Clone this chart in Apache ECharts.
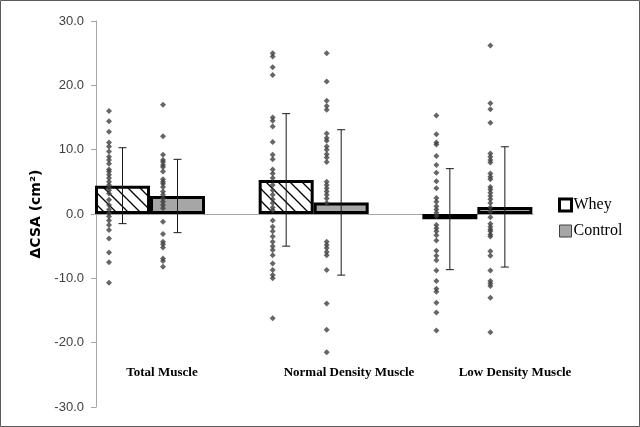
<!DOCTYPE html>
<html><head><meta charset="utf-8">
<script src="https://cdn.jsdelivr.net/npm/echarts@6/dist/echarts.min.js"></script>
<style>html,body{margin:0;padding:0;background:#fff}#c{width:640px;height:427px}</style>
</head><body><div id="c"></div><script>
// ---- data ----
const categories = ['Total Muscle', 'Normal Density Muscle', 'Low Density Muscle'];
const wheyMean = [4.4, 5.3, -0.8];
const wheySD = [5.9, 10.3, 7.85];
const controlMean = [2.8, 1.8, 1.1];
const controlSD = [5.7, 11.3, 9.35];

const wheyTotal = [16.0, 14.4, 12.8, 11.1, 10.5, 9.7, 8.9, 8.4, 7.8, 6.9, 6.6, 6.1, 5.6, 5.0, 4.5, 4.1, 3.7, 3.2, 2.2, 1.4, 0.7, 0.1, -0.4, -1.0, -1.7, -2.5, -3.8, -6.0, -7.5, -10.7];
const controlTotal = [17.0, 12.1, 9.2, 8.4, 8.1, 7.6, 7.3, 6.6, 5.4, 5.0, 4.7, 4.2, 3.5, 3.0, 2.4, 1.9, 1.4, 0.9, -1.2, -3.1, -4.3, -4.7, -5.2, -6.9, -7.3, -8.2];
const wheyNormal = [25.0, 24.5, 22.8, 21.6, 15.0, 14.5, 13.6, 11.2, 9.2, 8.5, 6.9, 6.3, 5.6, 4.5, 3.7, 3.0, 2.3, 1.7, 1.0, 0.6, -1.0, -2.0, -2.7, -3.5, -4.3, -5.0, -5.6, -6.4, -7.7, -8.7, -9.5, -10.0, -16.2];
const controlNormal = [25.0, 20.6, 17.6, 16.8, 16.2, 12.5, 11.8, 11.4, 10.5, 10.0, 9.3, 8.8, 8.1, 5.0, 4.5, 4.0, 3.5, 3.0, 2.4, 1.7, -4.3, -4.8, -5.3, -5.9, -6.4, -8.7, -13.9, -18.0, -21.5];
const wheyLow = [15.3, 12.4, 11.1, 10.8, 9.0, 7.6, 6.4, 5.1, 4.0, 2.5, 1.9, 1.2, 0.7, 0.2, -0.3, -1.7, -2.2, -2.7, -3.3, -4.1, -5.7, -6.5, -7.2, -8.8, -10.4, -11.6, -12.1, -13.8, -15.3, -18.1];
const controlLow = [26.2, 17.2, 16.3, 14.2, 9.4, 8.9, 8.4, 8.0, 6.3, 5.8, 5.4, 4.2, 3.8, 3.3, 2.8, 2.3, 1.7, 1.0, 0.4, -0.5, -1.5, -2.0, -2.4, -2.7, -3.2, -3.5, -5.8, -6.5, -8.8, -10.4, -10.8, -11.2, -13.0, -18.4];

const yMin = -30, yMax = 30, yStep = 10;

// ---- build ----
const wheyPts = [wheyTotal, wheyNormal, wheyLow];
const ctrlPts = [controlTotal, controlNormal, controlLow];
function toPts(groups) {
  const out = [];
  groups.forEach((g, i) => g.forEach(v => out.push([i, v])));
  return out;
}
const hatch = document.createElement('canvas');
hatch.width = 12; hatch.height = 12;
(function () {
  const g = hatch.getContext('2d');
  g.fillStyle = '#fff'; g.fillRect(0, 0, 12, 12);
  g.strokeStyle = '#000'; g.lineWidth = 1.3;
  g.beginPath();
  g.moveTo(-2, -2); g.lineTo(14, 14);
  g.moveTo(-2, 10); g.lineTo(2, 14);
  g.moveTo(10, -2); g.lineTo(14, 2);
  g.stroke();
})();

const BAR_W = 55;
function errItem(off) {
  return function (params, api) {
    const x = api.value(0), m = api.value(1), s = api.value(2);
    const t = api.coord([x, m + s]), b = api.coord([x, m - s]);
    const cx = t[0] + off;
    const st = { stroke: '#1a1a1a', lineWidth: 1 };
    return {
      type: 'group', children: [
        { type: 'line', shape: { x1: cx, y1: t[1], x2: cx, y2: b[1] }, style: st },
        { type: 'line', shape: { x1: cx - 4, y1: t[1], x2: cx + 4, y2: t[1] }, style: st },
        { type: 'line', shape: { x1: cx - 4, y1: b[1], x2: cx + 4, y2: b[1] }, style: st }
      ]
    };
  };
}

const chart = echarts.init(document.getElementById('c'));
chart.setOption({
  animation: false,
  backgroundColor: '#fff',
  grid: { left: 96, right: 107, top: 21, bottom: 20 },
  xAxis: {
    type: 'value', min: -0.33, max: 2.34,
    axisLine: { show: true, onZero: true, lineStyle: { color: '#a6a6a6', width: 1 } },
    axisTick: { show: false }, axisLabel: { show: false }, splitLine: { show: false }
  },
  yAxis: {
    type: 'value', min: yMin, max: yMax, interval: yStep,
    name: 'ΔCSA (cm²)', nameLocation: 'middle', nameGap: 52,
    nameTextStyle: { fontFamily: 'DejaVu Sans', fontWeight: 'bold', fontSize: 14, color: '#000' },
    axisLine: { show: true, onZero: false, lineStyle: { color: '#a6a6a6' } },
    axisTick: { show: true, length: 5, lineStyle: { color: '#a6a6a6' } },
    axisLabel: { formatter: v => v.toFixed(1), fontFamily: 'Liberation Sans', fontSize: 13, color: '#404040', margin: 12 },
    splitLine: { show: false }
  },
  legend: {
    orient: 'vertical', left: 553, top: 192, itemGap: 10, itemWidth: 12, itemHeight: 12, icon: 'rect',
    textStyle: { fontFamily: 'Liberation Serif', fontSize: 16, color: '#000', padding: [0, 0, 0, -3] },
    data: [
      { name: 'Whey', itemStyle: { color: '#fff', borderColor: '#000', borderWidth: 3 } },
      { name: 'Control', itemStyle: { color: '#a6a6a6', borderColor: '#404040', borderWidth: 1 } }
    ]
  },
  series: [
    {
      name: 'Whey', type: 'bar', barWidth: BAR_W, barGap: '0%', z: 2,
      itemStyle: { color: { image: hatch, repeat: 'repeat' }, borderColor: '#000', borderWidth: 3 },
      data: wheyMean.map((v, i) => [i, v])
    },
    {
      name: 'Control', type: 'bar', barWidth: BAR_W, barGap: '0%', z: 2,
      itemStyle: { color: '#a6a6a6', borderColor: '#000', borderWidth: 3 },
      data: controlMean.map((v, i) => [i, v])
    },
    {
      name: 'wheyErr', type: 'custom', z: 4, renderItem: errItem(-BAR_W / 2),
      data: wheyMean.map((v, i) => [i, v, wheySD[i]])
    },
    {
      name: 'controlErr', type: 'custom', z: 4, renderItem: errItem(BAR_W / 2),
      data: controlMean.map((v, i) => [i, v, controlSD[i]])
    },
    {
      name: 'wheyDots', type: 'scatter', symbol: 'diamond', symbolSize: 6, symbolOffset: [-41, 0], z: 5,
      itemStyle: { color: '#404040' }, data: toPts(wheyPts)
    },
    {
      name: 'controlDots', type: 'scatter', symbol: 'diamond', symbolSize: 6, symbolOffset: [13, 0], z: 5,
      itemStyle: { color: '#404040' }, data: toPts(ctrlPts)
    }
  ],
  graphic: [
    { type: 'rect', shape: { x: 0.5, y: 0.5, width: 639, height: 426 }, style: { fill: null, stroke: '#595959', lineWidth: 1 }, silent: true },
    { type: 'text', x: 162, y: 373, style: { text: categories[0], font: 'bold 13px "Liberation Serif"', fill: '#000', align: 'center', verticalAlign: 'middle' } },
    { type: 'text', x: 349, y: 373, style: { text: categories[1], font: 'bold 13px "Liberation Serif"', fill: '#000', align: 'center', verticalAlign: 'middle' } },
    { type: 'text', x: 515, y: 373, style: { text: categories[2], font: 'bold 13px "Liberation Serif"', fill: '#000', align: 'center', verticalAlign: 'middle' } }
  ]
});
</script></body></html>
